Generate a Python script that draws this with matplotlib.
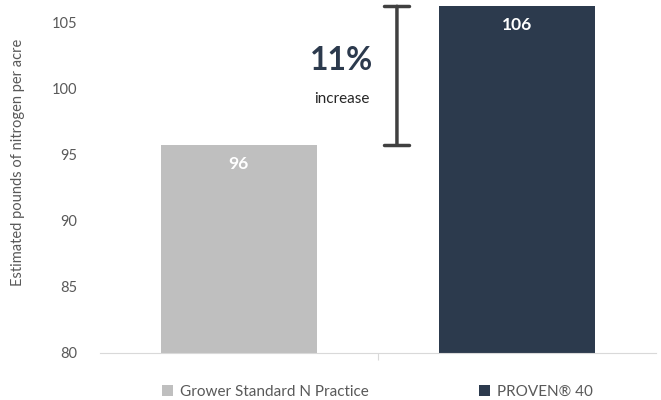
import matplotlib.pyplot as plt
from matplotlib.patches import Patch

plt.rcParams['font.family'] = ['Lato', 'DejaVu Sans']

categories = ['Grower Standard N Practice', 'PROVEN® 40']
values = [95.7, 106.2]
labels = ['96', '106']
colors = ['#BFBFBF', '#2C3A4D']
yticks = [80, 85, 90, 95, 100, 105]
pct_text = '11%'

fig = plt.figure(figsize=(6.61, 4), dpi=100)
ax = fig.add_axes([0.151, 0.1175, 0.841, 0.875])

x = list(range(len(categories)))
bars = ax.bar(x, values, width=0.56, color=colors, bottom=0)
ax.set_ylim(80, 106.45)
ax.set_xlim(-0.5, 1.5)
ax.set_yticks(yticks)
ax.set_xticks([0.5])
ax.set_xticklabels([''])
ax.tick_params(axis='x', length=5, color='#D9D9D9')
ax.tick_params(axis='y', length=0, labelsize=10.5, labelcolor='#595959', pad=16)
for s in ['top', 'right', 'left']:
    ax.spines[s].set_visible(False)
ax.spines['bottom'].set_color('#D9D9D9')
ax.set_ylabel('Estimated pounds of nitrogen per acre', fontsize=10.5, color='#595959')
ax.yaxis.set_label_coords(-0.135, 0.546)

for xi, v, lab in zip(x, values, labels):
    ax.text(xi, v - 1.4, lab, ha='center', va='center', color='white',
            fontsize=12.5, fontweight='bold')

# bracket showing the increase
bx = 0.569
ax.annotate('', xy=(bx, values[1]), xytext=(bx, values[0]),
            arrowprops=dict(arrowstyle='|-|, widthA=0.9, widthB=0.9',
                            color='#404040', lw=2.5, shrinkA=0, shrinkB=0))
ax.text(0.37, 102.1, pct_text, ha='center', va='center', fontsize=23,
        fontweight='bold', color='#2C3A4D')
ax.text(0.37, 99.2, 'increase', ha='center', va='center', fontsize=11, color='#262626')

handles = [Patch(facecolor=c, edgecolor='none') for c in colors]
fig.legend(handles, categories, loc='center left', bbox_to_anchor=(0.224, 0.02),
           ncol=2, frameon=False, fontsize=11, handlelength=0.7, handleheight=0.7,
           handletextpad=0.5, columnspacing=7.2, labelcolor='#595959')

fig.savefig('out.png', dpi=100)
